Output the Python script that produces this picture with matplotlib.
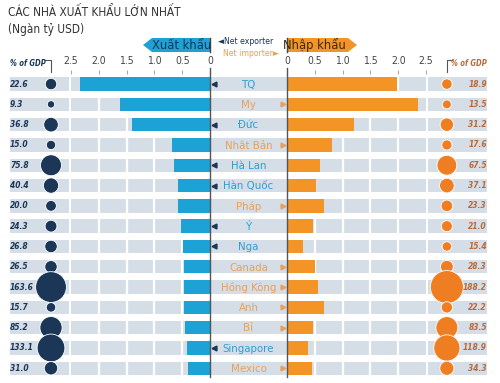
import matplotlib
matplotlib.use('Agg')
import matplotlib.pyplot as plt
from matplotlib.lines import Line2D
from matplotlib.patches import Polygon

plt.rcParams['font.family'] = ['DejaVu Sans']
plt.rcParams['font.stretch'] = 'condensed'

# Du lieu
countries = ['TQ', 'My', 'Đức', 'Nhật Bản', 'Hà Lan', 'Hàn Quốc', 'Pháp', 'Ý',
             'Nga', 'Canada', 'Hồng Kông', 'Anh', 'Bỉ', 'Singapore', 'Mexico']
exports = [2.34, 1.62, 1.40, 0.68, 0.65, 0.57, 0.57, 0.52,
           0.49, 0.47, 0.47, 0.46, 0.45, 0.41, 0.39]
imports = [1.98, 2.36, 1.21, 0.81, 0.59, 0.53, 0.67, 0.46,
           0.29, 0.51, 0.55, 0.66, 0.46, 0.37, 0.45]
exp_gdp = [22.6, 9.3, 36.8, 15.0, 75.8, 40.4, 20.0, 24.3,
           26.8, 26.5, 163.6, 15.7, 85.2, 133.1, 31.0]
imp_gdp = [18.9, 13.5, 31.2, 17.6, 67.5, 37.1, 23.3, 21.0,
           15.4, 28.3, 188.2, 22.2, 83.5, 118.9, 34.3]
ticks = [0, 0.5, 1.0, 1.5, 2.0, 2.5]

BLUE = '#1ca2d4'
ORANGE = '#f39426'
CIRC_OR = '#ef7d22'
NAVY = '#1b3656'
BAND = '#d5dee7'
TXT_BLUE = '#2a9fd6'
TXT_ORANGE = '#e9a058'
TXT_BROWN = '#b9693a'

W, H = 500, 383
fig = plt.figure(figsize=(W / 100, H / 100), dpi=100)


def fx(px):
    return px / W


def fy(py):
    return 1 - py / H


bot, hgt = 0.012, 0.795
ax_lc = fig.add_axes([fx(10), bot, fx(59), hgt])
ax_l = fig.add_axes([fx(71), bot, fx(139), hgt])
ax_c = fig.add_axes([fx(210), bot, fx(77), hgt])
ax_r = fig.add_axes([fx(287), bot, fx(139), hgt])
ax_rc = fig.add_axes([fx(428), bot, fx(59), hgt])

n = len(countries)
rows = list(range(n))
bh = 0.66
net_exp = [e > i for e, i in zip(exports, imports)]

for ax in (ax_lc, ax_l, ax_c, ax_r, ax_rc):
    ax.set_ylim(n - 0.5, -0.5)
    for s in ax.spines.values():
        s.set_visible(False)
    ax.set_yticks([])

for ax in (ax_lc, ax_c, ax_rc):
    ax.set_xlim(0, 1)
    ax.set_xticks([])
    ax.barh(rows, 1, height=bh, color=BAND, zorder=0)

# cot bar
for ax, vals, col in ((ax_l, exports, BLUE), (ax_r, imports, ORANGE)):
    ax.barh(rows, 2.5, height=bh, color=BAND, zorder=0)
    for t in ticks[1:-1]:
        ax.axvline(t, color='white', lw=1.6, zorder=1)
    ax.barh(rows, vals, height=bh, color=col, zorder=2)
    ax.xaxis.tick_top()
    ax.set_xticks(ticks)
    ax.set_xticklabels(['0' if t == 0 else '%.1f' % t for t in ticks])
    ax.tick_params(axis='x', length=3, width=0.8, color='#aaaaaa', pad=2.5,
                   labelsize=7.5, labelcolor='#444444')
ax_l.set_xlim(2.5, 0)
ax_r.set_xlim(0, 2.5)

# % of GDP
ax_lc.scatter([0.695] * n, rows, s=[3.0 * v for v in exp_gdp], color=NAVY,
              edgecolor='white', linewidth=0.6, zorder=3, clip_on=False)
for r, v in zip(rows, exp_gdp):
    ax_lc.text(0.0, r, '%.1f' % v, ha='left', va='center', fontsize=6,
               style='italic', weight='bold', color=NAVY)
ax_rc.scatter([0.32] * n, rows, s=[3.0 * v for v in imp_gdp], color=CIRC_OR,
              edgecolor='white', linewidth=0.6, zorder=3, clip_on=False)
for r, v in zip(rows, imp_gdp):
    ax_rc.text(1.0, r, '%.1f' % v, ha='right', va='center', fontsize=6,
               style='italic', weight='bold', color=TXT_BROWN)

# ten nuoc
for r, name, ex in zip(rows, countries, net_exp):
    ax_c.text(0.5, r + 0.04, name, ha='center', va='center', fontsize=8.2,
              color=TXT_BLUE if ex else TXT_ORANGE, zorder=3)
    if ex:
        ax_c.plot(0.05, r, marker='<', ms=3.5, color=NAVY, zorder=3)
    else:
        ax_c.plot(0.95, r, marker='>', ms=3.5, color=TXT_ORANGE, zorder=3)

# tieu de
fig.text(fx(8), fy(13), 'CÁC NHÀ XUẤT KHẨU LỚN NHẤT', fontsize=8.5,
         color='#333333', va='center', ha='left')
fig.text(fx(8), fy(30), '(Ngàn tỷ USD)', fontsize=8.5, color='#333333',
         va='center', ha='left')

# hop Xuat khau / Nhap khau
fig.patches.append(Polygon(
    [(fx(143), fy(45)), (fx(152), fy(38)), (fx(210), fy(38)),
     (fx(210), fy(52)), (fx(152), fy(52))],
    closed=True, transform=fig.transFigure, color=BLUE, lw=0))
fig.text(fx(182), fy(45.5), 'Xuất khẩu', fontsize=9.3, color=NAVY,
         ha='center', va='center')
fig.patches.append(Polygon(
    [(fx(287), fy(38)), (fx(348), fy(38)), (fx(357), fy(45)),
     (fx(348), fy(52)), (fx(287), fy(52))],
    closed=True, transform=fig.transFigure, color=ORANGE, lw=0))
fig.text(fx(314), fy(45.5), 'Nhập khẩu', fontsize=9.3, color='#3a2a10',
         ha='center', va='center')

fig.text(fx(246), fy(41), '◄Net exporter', fontsize=6.2, color=NAVY,
         ha='center', va='center')
fig.text(fx(251), fy(53), 'Net importer►', fontsize=6.2, color=TXT_ORANGE,
         ha='center', va='center')

# truc doc
for xp in (210, 287):
    fig.lines.append(Line2D([fx(xp), fx(xp)], [fy(38), fy(52)],
                            transform=fig.transFigure, color='#444444', lw=1))
    fig.lines.append(Line2D([fx(xp), fx(xp)], [fy(68), fy(377)],
                            transform=fig.transFigure, color='#555555', lw=1,
                            zorder=5))

# nhan % of GDP
fig.text(fx(10), fy(63), '% of GDP', fontsize=5.5, style='italic',
         weight='bold', color=NAVY, ha='left', va='center')
fig.lines.append(Line2D([fx(45), fx(51), fx(51)], [fy(60), fy(60), fy(72)],
                        transform=fig.transFigure, color='#555555', lw=0.8))
fig.text(fx(487), fy(63), '% of GDP', fontsize=5.5, style='italic',
         weight='bold', color=TXT_BROWN, ha='right', va='center')
fig.lines.append(Line2D([fx(447), fx(447), fx(452)], [fy(72), fy(60), fy(60)],
                        transform=fig.transFigure, color='#555555', lw=0.8))

fig.savefig('out.png', dpi=100)
